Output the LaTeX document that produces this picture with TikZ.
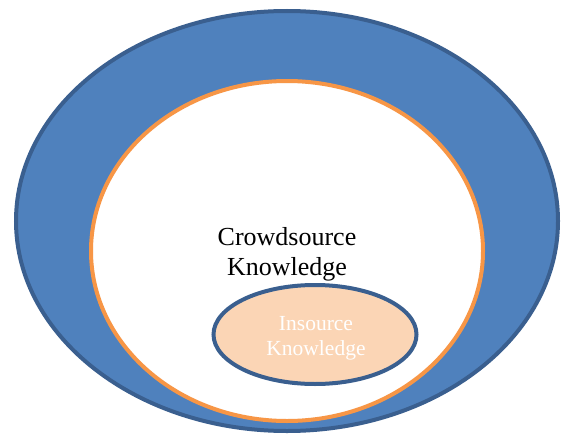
\documentclass[tikz,border=0pt]{standalone}
\usepackage{fontspec}
\setmainfont{Liberation Serif}
\definecolor{outerblue}{HTML}{4F81BD}
\definecolor{edgeblue}{HTML}{3A5F8F}
\definecolor{ringorange}{HTML}{F79646}
\definecolor{peach}{HTML}{FBD5B5}
\tikzset{
    crowdtext/.style={align=center, font=\fontsize{26}{30}\selectfont},
    intext/.style={align=center, text=white, font=\fontsize{21.5}{25}\selectfont}
}
\begin{document}
\begin{tikzpicture}[x=1pt, y=-1pt]
    \useasboundingbox (0, 0) rectangle (567, 436);
    \fill[white] (0, 0) rectangle (567, 436);

    % outer ellipse
    \draw[line width=4pt, edgeblue, fill=outerblue] (287, 221) ellipse (271 and 210);

    % crowdsource ellipse
    \draw[line width=4pt, ringorange, fill=white] (287, 251) ellipse (196 and 170);

    % insource ellipse
    \draw[line width=4pt, edgeblue, fill=peach] (315, 334.5) ellipse (101.5 and 49.5);

    \node[crowdtext] (crowd) at (287, 254) {Crowdsource\\Knowledge};
    \node[intext] (insource) at (316, 338) {Insource\\Knowledge};
\end{tikzpicture}
\end{document}
